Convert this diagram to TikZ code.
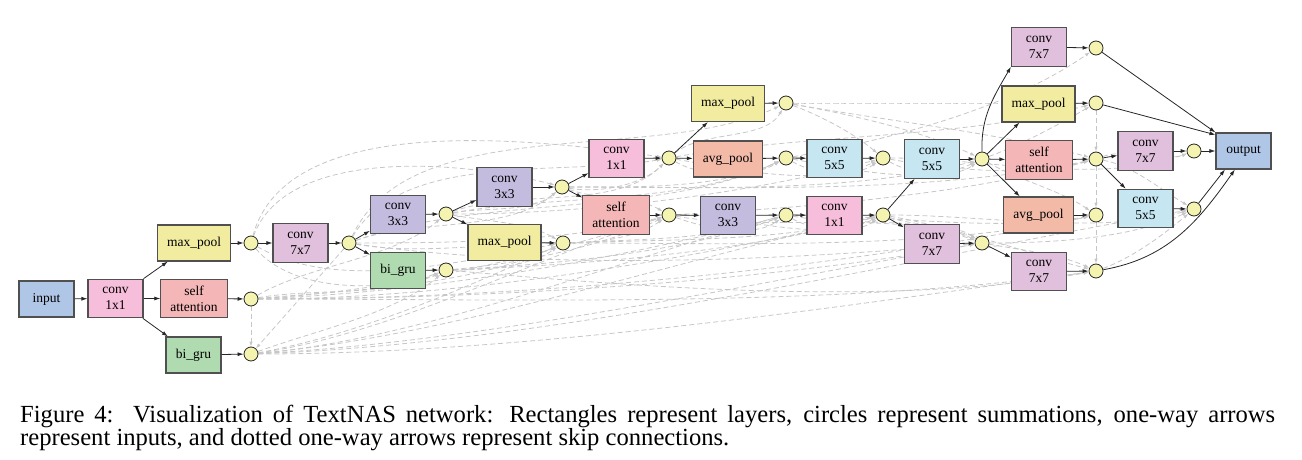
\documentclass[tikz,border=0pt]{standalone}
\usepackage{fontspec}
\setmainfont{Liberation Serif}
\usetikzlibrary{arrows.meta,calc}
\definecolor{cinput}{RGB}{176,198,230}
\definecolor{cca}{RGB}{246,190,218}
\definecolor{ccc}{RGB}{196,188,222}
\definecolor{cce}{RGB}{198,230,242}
\definecolor{ccg}{RGB}{224,192,220}
\definecolor{cmax}{RGB}{242,236,160}
\definecolor{cavg}{RGB}{244,186,168}
\definecolor{catt}{RGB}{244,182,182}
\definecolor{cgru}{RGB}{176,218,176}
\definecolor{csum}{RGB}{244,244,176}
\definecolor{cborder}{RGB}{80,80,80}
\definecolor{cskip}{RGB}{198,198,198}
\pgfdeclarelayer{bg}
\pgfsetlayers{bg,main}
\begin{document}
\begin{tikzpicture}[x=1pt,y=1pt,
  layer/.style={draw=cborder, line width=1.1pt, minimum width=55pt, minimum height=36pt,
    inner xsep=9.5pt, inner ysep=2pt, align=center, font=\fontsize{13.5}{16}\selectfont},
  tall/.style={minimum height=38.5pt},
  sum/.style={circle, draw=black!85, line width=0.8pt, fill=csum, minimum size=14pt, inner sep=0pt},
  flow/.style={draw=black!85, line width=0.8pt, -{Latex[length=6pt,width=4pt]}},
  skip/.style={draw=cskip, line width=0.8pt, dash pattern=on 5pt off 3pt, looseness=0.8, -{Latex[length=5pt,width=3.5pt]}},
]
\useasboundingbox (0,0) rectangle (1302,-460);
% layers
\node[layer, fill=cinput] (L0) at (46.5,-299) {input};
\node[layer, tall, fill=cca] (L1) at (115.5,-298.5) {conv\\1x1};
\node[layer, fill=cmax] (L2) at (194,-243) {max\_pool};
\node[layer, tall, fill=catt] (L3) at (194,-298.5) {self\\attention};
\node[layer, fill=cgru] (L4) at (193.5,-355) {bi\_gru};
\node[layer, tall, fill=ccg] (L5) at (300.5,-243) {conv\\7x7};
\node[layer, tall, fill=ccc] (L6) at (398,-214.5) {conv\\3x3};
\node[layer, fill=cgru] (L7) at (398,-270.5) {bi\_gru};
\node[layer, tall, fill=ccc] (L8) at (504.5,-187) {conv\\3x3};
\node[layer, fill=cmax] (L9) at (504.5,-242.5) {max\_pool};
\node[layer, tall, fill=cca] (L10) at (616.5,-158.5) {conv\\1x1};
\node[layer, tall, fill=catt] (L11) at (616,-215) {self\\attention};
\node[layer, fill=cmax] (L12) at (728,-103.5) {max\_pool};
\node[layer, fill=cavg] (L13) at (728,-159) {avg\_pool};
\node[layer, tall, fill=ccc] (L14) at (728,-215.5) {conv\\3x3};
\node[layer, tall, fill=cce] (L15) at (834.5,-158.5) {conv\\5x5};
\node[layer, tall, fill=cca] (L16) at (834.5,-215.5) {conv\\1x1};
\node[layer, tall, fill=cce] (L17) at (932,-159) {conv\\5x5};
\node[layer, tall, fill=ccg] (L18) at (932,-244) {conv\\7x7};
\node[layer, tall, fill=ccg] (L19) at (1039,-47) {conv\\7x7};
\node[layer, fill=cmax] (L20) at (1038.5,-104) {max\_pool};
\node[layer, tall, fill=catt] (L21) at (1039,-160) {self\\attention};
\node[layer, fill=cavg] (L22) at (1038.5,-215) {avg\_pool};
\node[layer, tall, fill=ccg] (L23) at (1039,-271.5) {conv\\7x7};
\node[layer, tall, fill=ccg] (L24) at (1145.5,-151) {conv\\7x7};
\node[layer, tall, fill=cce] (L25) at (1145.5,-208.5) {conv\\5x5};
\node[layer, fill=cinput] (L26) at (1243.5,-151) {output};
% summations
\foreach \n/\x/\y in {c1/251/243, c2/251/299, c3/251/354, c4/349/243, c5/446/214, c6/446/270,
  c7/562/187, c8/563/243, c9/669/158, c10/669/215, c11/786/103, c12/786/158, c13/786/215,
  c14/883/158, c15/883/215, c16/982/159, c17/982/243, c18/1096/48, c19/1096/103, c20/1096/159,
  c21/1096/215, c22/1096/271, c23/1194/151, c24/1194/209}
  \node[sum] (\n) at (\x,-\y) {};
% skip connections
\begin{pgfonlayer}{bg}
\draw[skip] (c2) -- (c3);
\draw[skip] (c4) -- (c3);
\draw[skip] (c19) -- (c20);
\draw[skip] (c20) -- (c21);
\draw[skip] (c21) -- (c22);
\foreach \s/\t/\o/\i in {
  c1/c7/70/165, c1/c9/75/172, c4/c9/60/190, c4/c11/65/205,
  c1/c6/-50/200, c1/c8/-30/190,
  c2/c5/30/220, c2/c6/10/205, c2/c8/5/205, c2/c10/3/198, c2/c13/2/195, c2/c15/0/193,
  c2/c17/0/190, c2/c21/0/192, c2/c22/0/188,
  c3/c6/20/220, c3/c8/10/205, c3/c10/8/198, c3/c13/5/195, c3/c15/5/192, c3/c17/3/190,
  c3/c22/0/188, c3/c24/2/190,
  c4/c7/20/220, c4/c8/-10/180, c4/c10/0/195, c4/c12/20/205, c4/c17/-8/185,
  c5/c7/10/220, c5/c8/-10/150, c5/c9/20/225, c5/c12/10/205, c5/c14/0/195,
  c6/c8/0/215, c6/c10/5/205, c6/c13/3/200, c6/c15/2/195, c6/c22/-5/190,
  c7/c9/-10/225, c7/c10/-20/150, c7/c12/0/205, c7/c16/0/195, c7/c20/0/192,
  c8/c10/0/215, c8/c13/3/200, c8/c15/2/195, c8/c21/0/192,
  c9/c11/40/240, c9/c12/-30/210, c9/c14/-10/205, c9/c19/10/195,
  c10/c13/-20/215, c10/c15/0/205, c10/c17/-10/160, c10/c20/3/195,
  c11/c14/-20/140, c11/c16/-10/155, c11/c19/0/180, c11/c20/-10/165,
  c12/c14/-30/215, c12/c16/-10/205, c12/c18/10/215,
  c13/c15/-30/215, c13/c17/-10/155, c13/c21/0/190,
  c14/c16/-30/215, c14/c20/-10/195, c14/c23/0/200,
  c15/c17/-20/145, c15/c22/-10/165, c15/c24/0/195,
  c16/c21/-30/145, c16/c19/20/210,
  c17/c22/-10/155, c17/c24/0/205,
  c20/c24/-10/150, c20/c23/20/200, c22/c24/20/220}
  \draw[skip] (\s) to[out=\o,in=\i] (\t);
\end{pgfonlayer}
% inputs
\draw[flow] (L0) -- (L1);
\draw[flow] (L1) -- (L2);
\draw[flow] (L1) -- (L3);
\draw[flow] (L1) -- (L4);
\draw[flow] (L2) -- (c1);
\draw[flow] (L3) -- (c2);
\draw[flow] (L4) -- (c3);
\draw[flow] (c1) -- (L5);
\draw[flow] (L5) -- (c4);
\draw[flow] (c4) -- (L6);
\draw[flow] (c4) -- (L7);
\draw[flow] (L6) -- (c5);
\draw[flow] (L7) -- (c6);
\draw[flow] (c5) -- (L8);
\draw[flow] (c5) -- (L9);
\draw[flow] (L8) -- (c7);
\draw[flow] (L9) -- (c8);
\draw[flow] (c7) -- (L10);
\draw[flow] (c7) -- (L11);
\draw[flow] (L10) -- (c9);
\draw[flow] (L11) -- (c10);
\draw[flow] (c9) -- (L12);
\draw[flow] (c9) -- (L13);
\draw[flow] (c10) -- (L14);
\draw[flow] (L12) -- (c11);
\draw[flow] (L13) -- (c12);
\draw[flow] (L14) -- (c13);
\draw[flow] (c12) -- (L15);
\draw[flow] (c13) -- (L16);
\draw[flow] (L15) -- (c14);
\draw[flow] (L16) -- (c15);
\draw[flow] (c15) -- (L17);
\draw[flow] (c15) -- (L18);
\draw[flow] (L17) -- (c16);
\draw[flow] (L18) -- (c17);
\draw[flow] (c16.north) to[out=92,in=240] (L19.south west);
\draw[flow] (c16) -- (L20);
\draw[flow] (c16) -- (L21);
\draw[flow] (c16) -- (L22);
\draw[flow] (c17) -- (L23);
\draw[flow] (L19) -- (c18);
\draw[flow] (L20) -- (c19);
\draw[flow] (L21) -- (c20);
\draw[flow] (L22) -- (c21);
\draw[flow] (L23) -- (c22);
\draw[flow] (c20) -- (L24);
\draw[flow] (c20) -- (L25);
\draw[flow] (L24) -- (c23);
\draw[flow] (L25) -- (c24);
\draw[flow] (c18) -- (L26.north west);
\draw[flow] (c19) -- (L26.150);
\draw[flow] (c23) -- (L26);
\draw[flow] (c24) -- (L26.225);
\draw[flow] (c22) to[out=10,in=235] (L26.245);
% caption
\node[anchor=base west, text width=1255pt, align=justify, inner sep=0pt, font=\fontsize{24.6}{20}\selectfont] (cap) at (20,-422)
  {Figure 4:\hspace{0.15em} Visualization of TextNAS network: Rectangles represent layers, circles represent summations, one-way arrows\linebreak represent inputs, and dotted one-way arrows represent skip connections.};
\end{tikzpicture}
\end{document}
